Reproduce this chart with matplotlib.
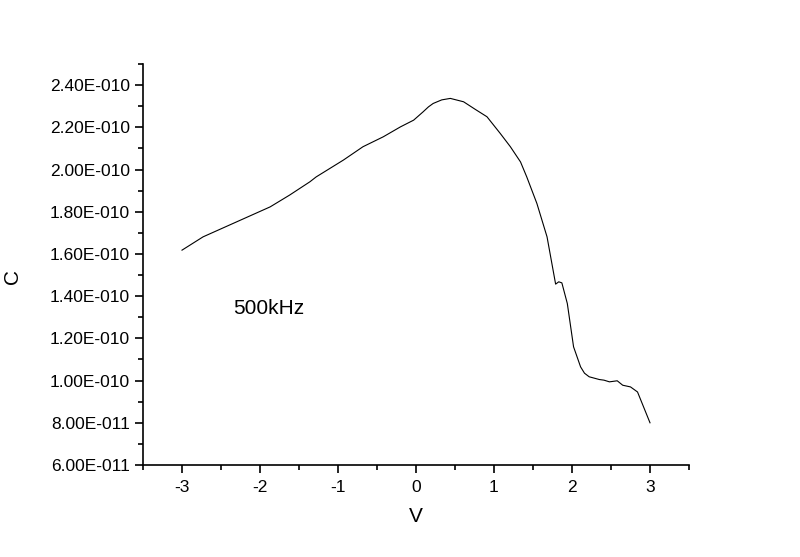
import numpy as np
import matplotlib
matplotlib.use("Agg")
import matplotlib.pyplot as plt
from matplotlib.ticker import MultipleLocator, FuncFormatter

# C-V curve at 500 kHz (C in units of 1e-10 F)
voltage = [-3.00, -2.73, -2.30, -1.87, -1.62, -1.36, -1.28, -0.93, -0.68, -0.42,
           -0.20, -0.03, 0.09, 0.16, 0.22, 0.33, 0.44, 0.61, 0.76, 0.91,
           1.08, 1.21, 1.34, 1.42, 1.55, 1.68, 1.79, 1.83, 1.87, 1.94,
           2.02, 2.11, 2.16, 2.22, 2.35, 2.41, 2.48, 2.58, 2.65, 2.75,
           2.84, 3.00]
cap_e10 = [1.618, 1.681, 1.752, 1.823, 1.879, 1.942, 1.965, 2.045, 2.108, 2.155,
           2.202, 2.234, 2.273, 2.297, 2.313, 2.330, 2.337, 2.321, 2.285, 2.250,
           2.171, 2.108, 2.036, 1.965, 1.839, 1.681, 1.457, 1.468, 1.463, 1.365,
           1.160, 1.065, 1.035, 1.018, 1.005, 1.002, 0.994, 0.999, 0.978, 0.970,
           0.946, 0.800]
label_text = "500kHz"

plt.rcParams['font.family'] = ['Liberation Sans', 'DejaVu Sans']

v = np.asarray(voltage)
c = np.asarray(cap_e10) * 1e-10


def origin_sci(val, pos):
    if val == 0:
        return "0"
    exp = int(np.floor(np.log10(abs(val))))
    mant = val / 10 ** exp
    if round(mant, 2) >= 10:
        mant /= 10; exp += 1
    sign = "-" if exp < 0 else "+"
    return f"{mant:.2f}E{sign}{abs(exp):03d}"


fig = plt.figure(figsize=(8, 5.57), dpi=100)
ax = fig.add_axes([143/800, 92/557, 546/800, 401/557])

ax.plot(v, c, color="black", lw=0.8)

ax.set_xlim(-3.5, 3.5)
ax.set_ylim(6e-11, 2.5e-10)
ax.xaxis.set_major_locator(MultipleLocator(1))
ax.xaxis.set_minor_locator(MultipleLocator(0.5))
ax.yaxis.set_major_locator(MultipleLocator(2e-11))
ax.yaxis.set_minor_locator(MultipleLocator(1e-11))
ax.yaxis.set_major_formatter(FuncFormatter(origin_sci))
ax.xaxis.set_major_formatter(FuncFormatter(lambda x, p: f"{x:.0f}"))

for s in ("top", "right"):
    ax.spines[s].set_visible(False)
for s in ("left", "bottom"):
    ax.spines[s].set_linewidth(1.2)

ax.tick_params(which="major", direction="out", length=6, width=1.2, labelsize=12.5, pad=3.5)
ax.tick_params(which="minor", direction="out", length=3.5, width=1.2)
ax.tick_params(axis="x", which="major", pad=5)

ax.set_xlabel("V", fontsize=15)
ax.set_ylabel("C", fontsize=15)
ax.xaxis.set_label_coords(0.5, -0.105)
ax.yaxis.set_label_coords(-0.222, 0.47)

ax.text(-2.35, 1.315e-10, label_text, fontsize=15, ha="left", va="baseline")

fig.savefig("out.png", dpi=100, facecolor="white")
